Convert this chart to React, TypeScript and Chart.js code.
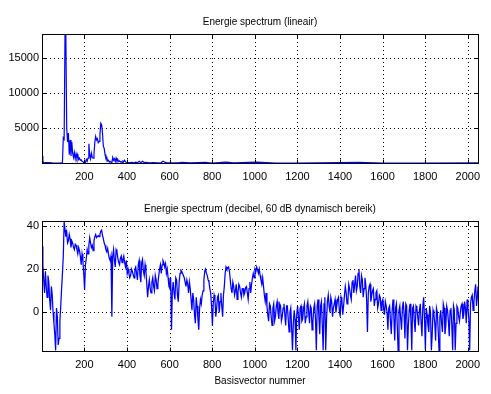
import React, { useEffect, useRef } from "react";
import { Chart, registerables } from "chart.js";

Chart.register(...registerables);

// ---------- data ----------
const xTickValues = [200, 400, 600, 800, 1000, 1200, 1400, 1600, 1800, 2000];
const linTickValues = [5000, 10000, 15000];
const dbTickValues = [0, 20, 40];

const titleLinear = "Energie spectrum (lineair)";
const titleDb = "Energie spectrum (decibel, 60 dB dynamisch bereik)";
const xAxisLabel = "Basisvector nummer";

// linear energy spectrum: basis vector number / energy
const linBins = [
  1, 5, 9, 17, 33, 49, 65, 81, 93, 97, 101, 105, 109, 113, 117, 121, 125, 129, 133, 137,
  141, 145, 149, 153, 157, 161, 165, 169, 173, 177, 181, 185, 189, 193, 197, 201, 205, 209, 213, 217,
  221, 225, 229, 233, 237, 241, 245, 249, 253, 257, 261, 265, 269, 273, 277, 281, 285, 289, 293, 297,
  301, 305, 309, 313, 317, 321, 325, 329, 333, 337, 341, 345, 349, 353, 357, 361, 365, 369, 373, 377,
  381, 385, 389, 393, 397, 401, 409, 417, 425, 433, 441, 449, 457, 465, 473, 481, 489, 505, 521, 545,
  561, 569, 577, 585, 601, 641, 657, 700, 769, 801, 865, 900, 1009, 1100, 1200, 1489, 1600, 1800, 2048,
];
const linValues = [
  1050, 300, 20, 60, 40, 10, 1, 2, 20, 80, 3600, 3400, 18470, 18200, 5000, 3000, 4300, 1200, 3300, 1000,
  3000, 1400, 800, 1500, 600, 1300, 700, 1200, 500, 700, 400, 450, 250, 200, 60, 30, 100, 500, 250, 700,
  2760, 1200, 600, 1400, 800, 700, 1200, 3000, 3800, 3300, 3500, 2900, 3100, 4000, 5700, 5500, 4300, 2400, 2100, 1200,
  700, 800, 300, 400, 150, 250, 100, 20, 800, 400, 600, 200, 700, 300, 500, 200, 300, 150, 200, 100,
  300, 200, 400, 150, 100, 60, 60, 50, 80, 40, 120, 40, 250, 40, 250, 60, 80, 30, 40, 20,
  60, 250, 130, 60, 15, 5, 80, 10, 100, 2, 120, 20, 120, 2, 1, 100, 3, 1, 15,
];

// decibel spectrum at basis vectors 1, 9, 17, ... 2041, 2048
const dbValues = [
  30.5, 15, 19, 7, 14, 1, 8, -5, -17.5, -2, -12, 3, 18, 42.2, 35, 32, 36, 30, 32, 29,
  31, 27, 28.5, 22, 24, 10.5, 25, 27, 34.5, 30, 28.5, 35, 34.5, 35.5, 36, 38, 34, 31, 28, 27,
  24, -2, 29, 21, 28, 23, 25, 23, 26, 21, 18, 18, 17, 19, 16, 21, 15, 24, 14, 24.5,
  17, 19, 7, 15, 9, 16, 10, 15, 13, 20, 18, 24, 21, 18, 16, 11, -8, 14, 6, 15,
  5, 18, 19, 17, 14, 15, 9, 11, 1, 6, -5, 3, -8, 6, 8, 15, 20, 17, 14, 9,
  -6, 8, -2, 7, 0, 9, -2, 12, 21, 20.5, 19, 11, 14, 8, 13, 9, 12, 7, 11, 9,
  12, 6, 14, 13, 18, 20, 21, 18, 17, 13, 12, 5, 3, -4, 3, -6, 4, -2, 5, -3,
  3, -2, 4, -6, 3, -9, 2, -17.5, 1, -17.5, 3, -8, 3, -3, 4, -2, 5, -5, 2, -4,
  4, -17.5, 6, -10, 5, -17.5, 7, -3, 8, 0, 5, 2, 6, 3, 7, -2, 5, 3, 12, 4,
  13, 8, 14, 9, 17, 12, 20, 9, 15, 11, 13, -9, 12, 5, 10, 3, 9, 2, 8, 1,
  6, -1, 3, -8, 3, -10, 6, -13, 4, -17.5, 3, -8, 5, -12, 3, -6, 4, -17.5, 3, -9,
  2, -6, 4, -11, 7, -17.5, -1, -9, 0, -10, -1, -13, 0, -17.5, 1, -9, 2, -6, 1, -11,
  2, -17.5, 1, -5, 2, -4, 3, -3, 5, -5, 2, -17.5, 7, 1, 10, 3, 12,
];
// decibel spectrum at basis vectors 5, 13, 21, ... 2045
const dbValuesMid = [
  22, 9, 12, 17, 6, 12, 0, -10, 2, -15, -4, 11, 26, 38, 37, 33, 34, 33, 30, 31.5,
  29, 30, 26, 27, 18, 22, 29, 31, 32, 31, 33, 36, 35, 35, 37.5, 35.5, 32, 29, 29.5, 25,
  26, 26, 24, 29, 25, 22, 26, 24.5, 23, 24, 20, 16, 20, 17.5, 20, 18, 22, 17, 23, 19,
  22, 13, 12, 11, 14, 12, 17, 11, 17, 22, 22, 23, 22.5, 20, 12, 16, 10, 9, 16, 8,
  14, 19.5, 18, 16, 12, 13, 14, 6, 9, -1, 7, -3, 2, 4, 10, 19, 18, 15, 11, 3,
  4, 6, 2, 8, 5, 3, 8, 18, 20, 21, 15, 9, 12, 10, 6, 13, 9, 11, 8, 11.5,
  9, 11, 9, 16, 16, 19, 19.5, 20, 15, 16, 8, 9, -1, 4, -2, 2, -4, 3, 0, 4,
  -4, 2, -1, 3, -3, 0, -7, -5, -3, -1, -2, 2, -4, 2, -5, 3, 0, 3, -8, 2,
  -3, 3, -2, 3, -6, 4, -17.5, 5, 3, 7, -2, 4, 0, 6, 1, 7, -1, 8, 9, 5,
  11, 6, 15, 13, 10, 18, 12, 17, 7, 16, 6, 9, 13, 8, 11, 6, 10, 4, 7, 5,
  2, 5, 0, 2, -4, 1, -2, 2, -6, 1, -3, 2, -1, 4, -17.5, 1, -3, 2, -4, 3,
  -2, 1, -5, 3, -3, 2, -6, 3, -17.5, 1, -5, 2, -8, -2, -5, 4, -10, 3, -4, 1,
  -6, 3, -17.5, 3, -2, 0, 4, -1, 2, 6, -3, 4, 8, 5, 13, 7,
];
const dbBinStep = 8;
const dbMidOffset = 4;
const lastBin = 2048;

const linRange = { min: 0, max: 18470 };
const dbRange = { min: -17.8, max: 42.2 };
const xRange = { min: 1, max: 2048 };

// ---------- styling ----------
const FONT = '"Liberation Sans", Arial, Helvetica, sans-serif';
const W = 491;
const H = 394;
const XAXIS_H = 30;

const matlabAxes = {
  id: "matlabAxes",
  beforeDatasetsDraw(chart: any) {
    const { ctx, chartArea: a, scales } = chart;
    ctx.save();
    ctx.strokeStyle = "#000";
    ctx.lineWidth = 1;
    ctx.setLineDash([1, 3]);
    ctx.beginPath();
    for (const t of scales.x.ticks) {
      const px = Math.round(scales.x.getPixelForValue(t.value)) + 0.5;
      ctx.moveTo(px, a.top);
      ctx.lineTo(px, a.bottom);
    }
    for (const t of scales.y.ticks) {
      const py = Math.round(scales.y.getPixelForValue(t.value)) + 0.5;
      ctx.moveTo(a.left, py);
      ctx.lineTo(a.right, py);
    }
    ctx.stroke();
    ctx.restore();
  },
  afterDatasetsDraw(chart: any, _args: any, opts: any) {
    const { ctx, chartArea: a, scales } = chart;
    const l = Math.round(a.left) + 0.5;
    const r = Math.round(a.right) + 0.5;
    const t = Math.round(a.top) + 0.5;
    const b = Math.round(a.bottom) + 0.5;
    const tl = 4;
    ctx.save();
    ctx.strokeStyle = "#000";
    ctx.lineWidth = 1;
    ctx.setLineDash([]);
    ctx.strokeRect(l, t, r - l, b - t);
    ctx.beginPath();
    for (const tk of scales.x.ticks) {
      const px = Math.round(scales.x.getPixelForValue(tk.value)) + 0.5;
      ctx.moveTo(px, b);
      ctx.lineTo(px, b - tl);
      ctx.moveTo(px, t);
      ctx.lineTo(px, t + tl);
    }
    for (const tk of scales.y.ticks) {
      const py = Math.round(scales.y.getPixelForValue(tk.value)) + 0.5;
      ctx.moveTo(l, py);
      ctx.lineTo(l + tl, py);
      ctx.moveTo(r, py);
      ctx.lineTo(r - tl, py);
    }
    ctx.stroke();
    ctx.fillStyle = "#000";
    ctx.font = `10px ${FONT}`;
    ctx.textAlign = "center";
    ctx.textBaseline = "middle";
    const cx = (a.left + a.right) / 2;
    if (opts.title) ctx.fillText(opts.title, cx, a.top - 12);
    if (opts.xlabel) ctx.fillText(opts.xlabel, cx, a.bottom + 30);
    ctx.restore();
  },
};

function makeConfig(
  points: { x: number; y: number }[],
  yRange: { min: number; max: number },
  yTicks: number[],
  padding: { top: number; bottom: number },
  title: string,
  xlabel: string,
  lineWidth: number
): any {
  return {
    type: "line",
    data: {
      datasets: [
        {
          data: points,
          borderColor: "#0000ff",
          borderWidth: lineWidth,
          pointRadius: 0,
          tension: 0,
          fill: false,
        },
      ],
    },
    plugins: [matlabAxes],
    options: {
      animation: false,
      responsive: false,
      devicePixelRatio: 1,
      events: [],
      layout: { padding: { left: 0, right: 13, top: padding.top, bottom: padding.bottom } },
      plugins: {
        legend: { display: false },
        tooltip: { enabled: false },
        title: { display: false },
        matlabAxes: { title, xlabel },
      },
      scales: {
        x: {
          type: "linear",
          min: xRange.min,
          max: xRange.max,
          grid: { display: false, drawTicks: false },
          border: { display: false },
          afterBuildTicks: (s: any) => {
            s.ticks = xTickValues.map((v) => ({ value: v }));
          },
          afterFit: (s: any) => {
            s.height = XAXIS_H;
          },
          ticks: {
            autoSkip: false,
            maxRotation: 0,
            padding: 7,
            color: "#000",
            font: { family: FONT, size: 11 },
            callback: (v: any) => String(v),
          },
        },
        y: {
          type: "linear",
          min: yRange.min,
          max: yRange.max,
          grid: { display: false, drawTicks: false },
          border: { display: false },
          afterBuildTicks: (s: any) => {
            s.ticks = yTicks.map((v) => ({ value: v }));
          },
          afterFit: (s: any) => {
            s.width = 42;
          },
          ticks: {
            padding: 3,
            color: "#000",
            font: { family: FONT, size: 11 },
            callback: (v: any) => String(v),
          },
        },
      },
    },
  };
}

export default function App() {
  const topRef = useRef<HTMLCanvasElement>(null);
  const botRef = useRef<HTMLCanvasElement>(null);

  useEffect(() => {
    const linPoints = linBins.map((x, i) => ({ x, y: linValues[i] }));
    const dbPoints: { x: number; y: number }[] = [];
    dbValues.forEach((y, i) => {
      dbPoints.push({ x: Math.min(1 + i * dbBinStep, lastBin), y });
      if (i < dbValuesMid.length) {
        dbPoints.push({ x: 1 + i * dbBinStep + dbMidOffset, y: dbValuesMid[i] });
      }
    });
    const c1 = new Chart(
      topRef.current as HTMLCanvasElement,
      makeConfig(linPoints, linRange, linTickValues, { top: 34, bottom: H - 163 - XAXIS_H }, titleLinear, "", 1.2)
    );
    const c2 = new Chart(
      botRef.current as HTMLCanvasElement,
      makeConfig(dbPoints, dbRange, dbTickValues, { top: 221, bottom: H - 351 - XAXIS_H }, titleDb, xAxisLabel, 1.25)
    );
    return () => {
      c1.destroy();
      c2.destroy();
    };
  }, []);

  const cs: React.CSSProperties = { position: "absolute", left: 0, top: 0, width: W, height: H };
  return (
    <div style={{ position: "absolute", left: 0, top: 0, width: W, height: H, background: "#fff" }}>
      <canvas ref={topRef} width={W} height={H} style={cs} />
      <canvas ref={botRef} width={W} height={H} style={cs} />
    </div>
  );
}
